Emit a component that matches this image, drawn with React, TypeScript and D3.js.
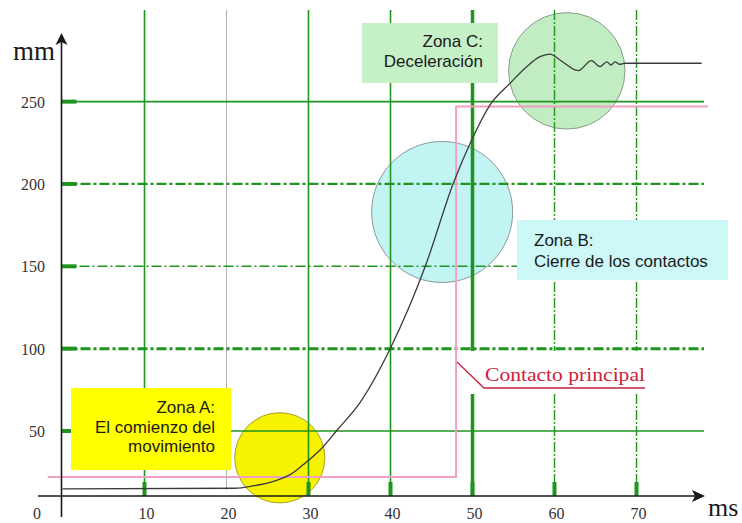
import React from "react";
import * as d3 from "d3";

// ---- data ----
const xTicks = [10, 20, 30, 40, 50, 60, 70];
const yTicks = [50, 100, 150, 200, 250];
const xTickLabels = ["10", "20", "30", "40", "50", "60", "70"];
const yTickLabels = ["50", "100", "150", "200", "250"];

// travel curve (ms, mm)
const curveMs = [0, 21.0, 23.2, 26.2, 27.7, 29.3, 31.4, 33.5, 36.3, 40.0, 44.3, 47.66, 49.9, 52.13, 54.57, 56.6, 58.23, 59.45, 60.67, 62.9, 64.5, 65.55, 66.37, 66.9, 67.38, 67.9, 68.6, 77.95];
const curveMm = [14.8, 15.2, 16.6, 20.2, 23.3, 29.3, 38.4, 50.6, 67.4, 100.4, 150.8, 200.4, 226.7, 247.9, 261.1, 271.2, 277.3, 278.9, 275.3, 268.8, 274.9, 271.2, 274.2, 272.2, 274.2, 272.7, 273.3, 273.3];

// main contact step (ms, mm)
const contactMs = [-1.8, 48, 48, 78.7];
const contactMm = [22, 22, 247, 247];

// zone circles (centre ms, centre mm, radius in ms)
const zoneCx = [26.5, 46.3, 61.5];
const zoneCy = [33.7, 183, 268.7];
const zoneR = [5.5, 8.6, 7.1];
const zoneFill = ["#f7f200", "#c2f4f4", "#c2ecc2"];
const zoneStroke = ["#a8a030", "#8a9a9a", "#8a9a8a"];

export default function App() {
  const W = 742, H = 523;
  const x = d3.scaleLinear().domain([0, 70]).range([62.5, 636.5]);
  const y = d3.scaleLinear().domain([0, 300]).range([513.3, 19.3]);
  const axisY = 496;
  const axisX = 61.5;
  const gridTop = 10;
  const gridRight = 704;
  const green = "#1f951f";

  const curvePts: [number, number][] = curveMs.map((m, i) => [m, curveMm[i]]);
  const curvePath = d3.line<[number, number]>().x(d => x(d[0])).y(d => y(d[1])).curve(d3.curveMonotoneX)(curvePts) || "";
  const contactPts: [number, number][] = contactMs.map((m, i) => [m, contactMm[i]]);
  const contactPath = d3.line<[number, number]>().x(d => x(d[0])).y(d => y(d[1]))(contactPts) || "";

  const vStyle = (v: number) => {
    if (v === 20) return { stroke: "#b0b0b0", strokeWidth: 1, dash: undefined as string | undefined, bottom: 490 };
    if (v === 50) return { stroke: green, strokeWidth: 3.5, dash: undefined, bottom: axisY };
    if (v === 60 || v === 70) return { stroke: green, strokeWidth: 1.4, dash: "10,2,2,2", bottom: axisY };
    return { stroke: green, strokeWidth: 1.6, dash: undefined, bottom: axisY };
  };
  const hStyle = (v: number) => {
    if (v === 100) return { strokeWidth: 3, dash: "10,3,3,3" as string | undefined };
    if (v === 200) return { strokeWidth: 2.2, dash: "10,3,3,3" };
    if (v === 150) return { strokeWidth: 1.6, dash: "10,3,2,3" };
    return { strokeWidth: 1.6, dash: undefined };
  };

  const serif = "'Liberation Serif', 'Times New Roman', serif";
  const sans = "'Liberation Sans', Arial, sans-serif";

  return (
    <svg width={W} height={H} style={{ position: "absolute", left: 0, top: 0, background: "#fff" }}>
      <rect x={0} y={0} width={W} height={H} fill="#fff" />
      {/* zone circles */}
      {zoneCx.map((cx, i) => (
        <circle key={"c" + i} cx={x(cx)} cy={y(zoneCy[i])} r={x(zoneR[i]) - x(0)} fill={zoneFill[i]} stroke={zoneStroke[i]} strokeWidth={1} />
      ))}
      {/* vertical grid */}
      {xTicks.map(v => {
        const s = vStyle(v);
        return <line key={"vg" + v} x1={x(v)} x2={x(v)} y1={gridTop} y2={s.bottom} stroke={s.stroke} strokeWidth={s.strokeWidth} strokeDasharray={s.dash} />;
      })}
      {/* horizontal grid */}
      {yTicks.map(v => {
        const s = hStyle(v);
        return <line key={"hg" + v} x1={axisX} x2={gridRight} y1={y(v)} y2={y(v)} stroke={green} strokeWidth={s.strokeWidth} strokeDasharray={s.dash} />;
      })}
      {/* thick tick marks */}
      {xTicks.filter(v => v !== 20).map(v => (
        <line key={"xt" + v} x1={x(v)} x2={x(v)} y1={axisY - 14} y2={axisY} stroke={green} strokeWidth={4} />
      ))}
      {yTicks.map(v => (
        <line key={"yt" + v} x1={axisX} x2={axisX + 15} y1={y(v)} y2={y(v)} stroke={green} strokeWidth={4} />
      ))}
      {/* main contact */}
      <path d={contactPath} fill="none" stroke="#f0a0c4" strokeWidth={2} />
      {/* travel curve */}
      <path d={curvePath} fill="none" stroke="#3a3a3a" strokeWidth={1.3} />
      {/* contact label */}
      <rect x={460} y={351} width={240} height={43} fill="#fff" />
      <polyline points="457,362 484,388 645,388" fill="none" stroke="#c8203c" strokeWidth={1.3} />
      <text x={485} y={381} fontFamily={serif} fontSize={19} fill="#d0203c" textLength={160} lengthAdjust="spacingAndGlyphs">Contacto principal</text>
      {/* zone boxes */}
      <rect x={71} y={388} width={160} height={82} fill="#ffff00" />
      <text fontFamily={sans} fontSize={17} fill="#1a1a1a" textAnchor="end">
        <tspan x={215} y={413}>Zona A:</tspan>
        <tspan x={215} y={433}>El comienzo del</tspan>
        <tspan x={215} y={452}>movimiento</tspan>
      </text>
      <rect x={517} y={220} width={211} height={60} fill="#ccf8f8" />
      <text fontFamily={sans} fontSize={17} fill="#1a1a1a">
        <tspan x={534} y={246}>Zona B:</tspan>
        <tspan x={534} y={267}>Cierre de los contactos</tspan>
      </text>
      <rect x={362} y={23} width={136} height={60} fill="#c6f0c6" />
      <text fontFamily={sans} fontSize={17} fill="#1a1a1a" textAnchor="end">
        <tspan x={483} y={47}>Zona C:</tspan>
        <tspan x={483} y={67}>Deceleración</tspan>
      </text>
      {/* axes */}
      <line x1={38} x2={700} y1={axisY} y2={axisY} stroke="#1a1a1a" strokeWidth={1.6} />
      <path d={`M705,${axisY} L692,${axisY - 6} L695,${axisY} L692,${axisY + 6} Z`} fill="#1a1a1a" />
      <line x1={axisX} x2={axisX} y1={38} y2={517} stroke="#1a1a1a" strokeWidth={1.6} />
      <path d={`M${axisX},33 L${axisX - 6},45 L${axisX},42 L${axisX + 6},45 Z`} fill="#1a1a1a" />
      {/* tick labels */}
      {xTicks.map((v, i) => (
        <text key={"xl" + v} x={x(v) + 2} y={519} fontFamily={serif} fontSize={16} fill="#333" textAnchor="middle">{xTickLabels[i]}</text>
      ))}
      {yTicks.map((v, i) => (
        <text key={"yl" + v} x={45} y={y(v) + 6} fontFamily={serif} fontSize={16} fill="#333" textAnchor="end">{yTickLabels[i]}</text>
      ))}
      <text x={37} y={519} fontFamily={serif} fontSize={16} fill="#333" textAnchor="middle">0</text>
      <text x={13} y={60} fontFamily={serif} fontSize={27} fill="#1a1a1a">mm</text>
      <text x={708} y={516} fontFamily={serif} fontSize={26} fill="#1a1a1a">ms</text>
    </svg>
  );
}
